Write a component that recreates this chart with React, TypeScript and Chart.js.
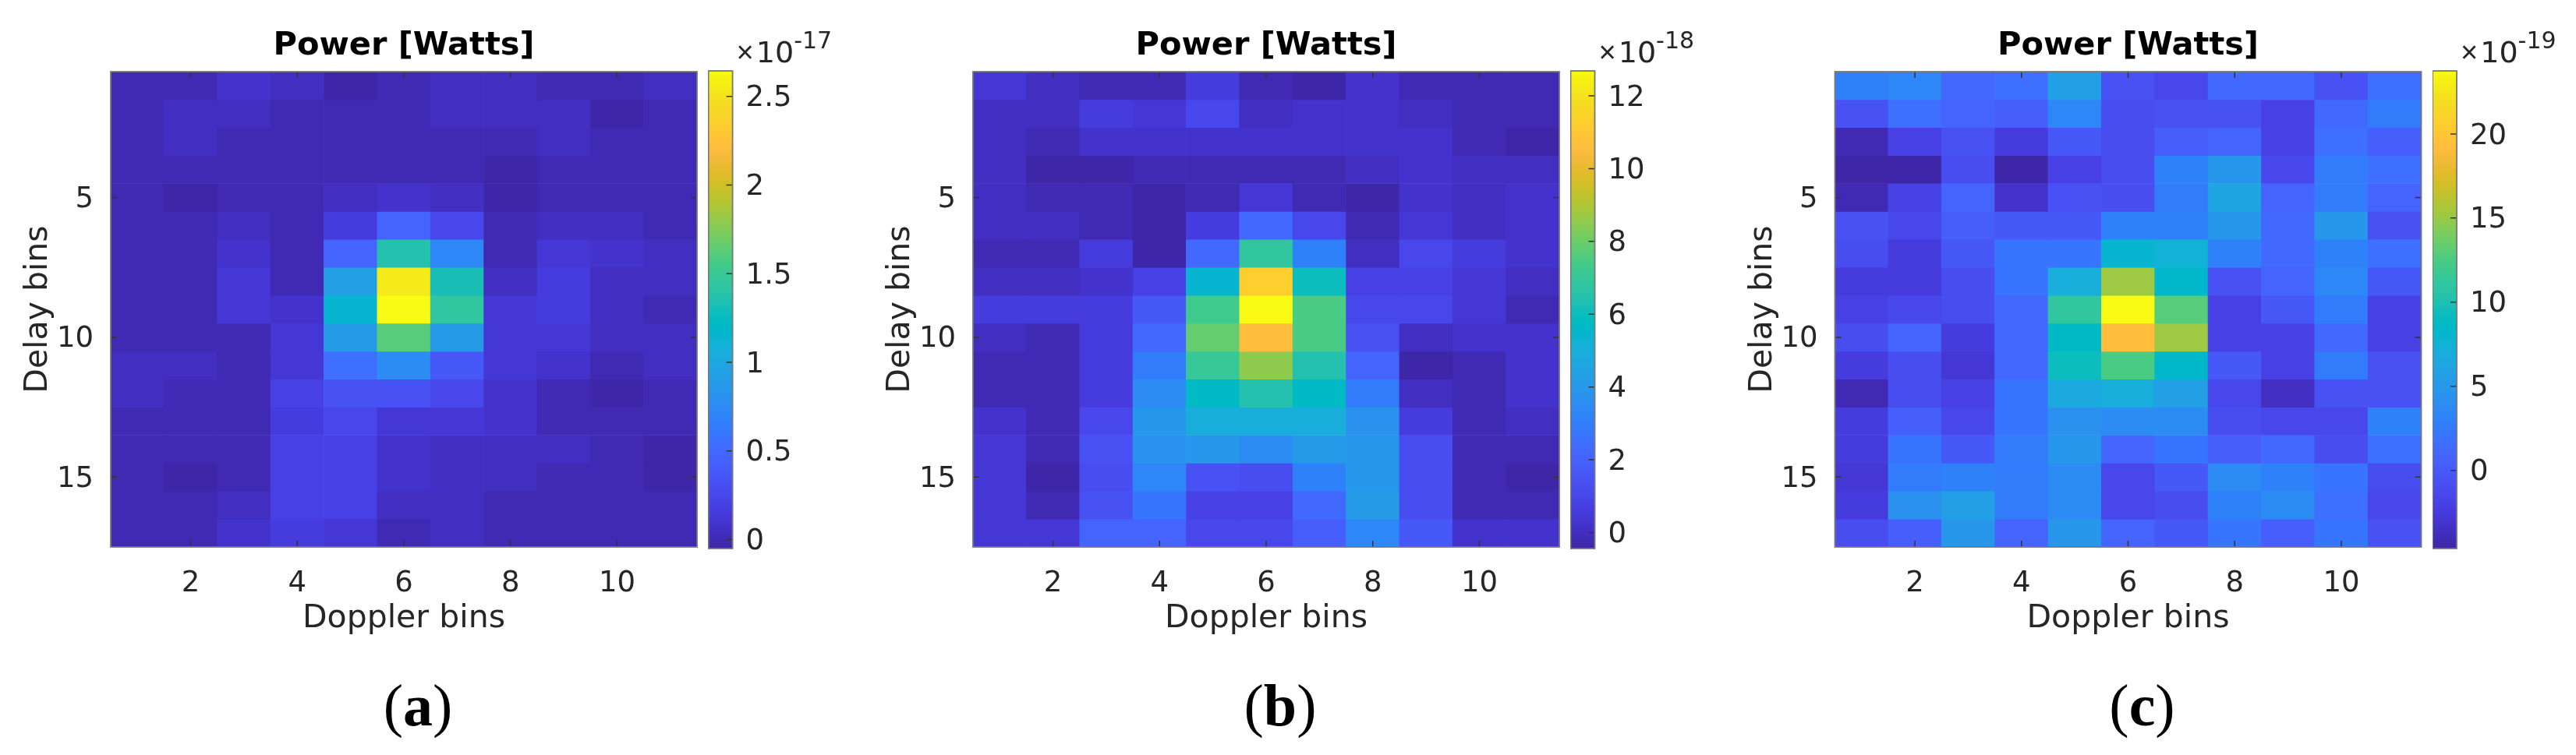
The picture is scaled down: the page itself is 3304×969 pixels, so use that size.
import React, { useEffect, useRef } from "react";
import { Chart, registerables } from "chart.js";
Chart.register(...registerables);

const doppler = [1, 2, 3, 4, 5, 6, 7, 8, 9, 10, 11];
const xTicks = [2, 4, 6, 8, 10];
const yTicks = [5, 10, 15];

// values x 1e-17
const powerA = [
  [.031,.031,.077,.044,-.01,.017,.044,.044,.004,.017,.044],
  [.031,.044,.044,.017,.004,.017,.044,.044,.058,-.01,.031],
  [.031,.044,.031,.031,.031,.004,.004,.031,.058,.004,.017],
  [.031,.031,.031,.017,.031,.031,.017,-.01,.031,.004,.004],
  [.031,-.01,.031,.031,.058,.077,.058,-.01,.031,.031,.004],
  [.031,.031,.058,.004,.166,.489,.273,.004,.044,.044,.031],
  [.031,.031,.112,.031,.462,1.378,.731,.017,.125,.098,.044],
  [.031,.031,.125,.031,.947,2.536,1.324,.044,.166,.058,.044],
  [.031,.031,.125,.098,1.135,2.644,1.459,.125,.192,.044,.031],
  [.031,.031,.031,.139,.893,1.593,.893,.125,.125,.058,.044],
  [.058,.058,.031,.139,.543,.758,.408,.125,.098,.017,.044],
  [.044,.017,.017,.219,.33,.33,.273,.112,.031,-.01,.031],
  [.017,.017,.017,.192,.273,.139,.139,.098,.031,.004,.004],
  [.031,.004,.031,.219,.233,.098,.058,.058,.044,.004,-.01],
  [.031,-.01,.031,.233,.233,.098,.044,.044,.031,.004,-.01],
  [.031,.031,.044,.206,.206,.058,.058,.031,.017,.017,.031],
  [.031,.031,.077,.192,.139,.031,.044,.031,.031,.031,.031],
];
// values x 1e-18
const powerB = [
  [.41,.09,-.05,-.18,.61,-.18,-.28,.18,-.05,-.18,-.11],
  [.09,.09,.74,.41,1.0,.09,.18,.35,.02,-.18,-.05],
  [.09,-.05,.28,.28,.35,.35,.35,.28,.18,-.05,-.24],
  [.02,-.24,-.24,-.18,-.18,-.05,-.18,.02,.35,.02,.09],
  [.09,-.18,-.05,-.28,-.18,.41,-.05,-.24,.28,.02,.35],
  [.09,.02,-.05,-.37,.61,2.32,1.14,-.05,.41,.09,.28],
  [-.05,-.05,.61,-.24,2.25,6.91,3.24,.09,1.0,.68,.35],
  [.02,.02,.28,.87,5.34,11.11,6.12,.81,.94,.41,.02],
  [.61,.61,.74,1.7,7.17,12.685,7.44,1.14,1.0,.41,-.11],
  [.02,-.05,.74,2.32,7.83,10.6,7.44,1.53,.02,.28,.18],
  [-.05,-.11,.61,2.97,7.04,8.49,6.39,2.05,-.37,-.05,.28],
  [-.05,-.11,.61,3.5,5.86,6.52,5.73,2.97,.02,-.05,.35],
  [.35,-.11,1.14,4.02,4.94,4.94,4.94,3.76,.61,-.05,.09],
  [.48,-.05,1.47,3.76,3.89,3.63,4.15,4.02,1.27,-.18,-.05],
  [.41,-.24,1.4,3.37,1.53,1.4,3.24,4.02,1.4,-.18,-.24],
  [.41,-.05,1.53,2.71,.87,.81,2.32,4.15,1.4,-.05,-.18],
  [.41,.48,2.19,2.05,1.0,1.0,1.92,3.37,1.7,.35,.35],
];
// values x 1e-19
const powerC = [
  [3.02,3.59,1.31,1.6,5.57,-.39,-1.53,1.31,1.31,-.39,1.6],
  [-.39,1.6,.75,.46,3.59,-.67,-.39,-.39,-1.81,1.31,2.73],
  [-3.8,-1.81,-.25,-2.38,-.11,-.96,.46,.75,-1.81,1.88,.46],
  [-4.37,-4.37,-.67,-4.37,-1.81,-.96,3.3,4.72,-1.24,2.73,1.88],
  [-4.08,-1.81,1.03,-2.95,-.25,-.67,2.73,6.43,.75,2.73,.75],
  [-.39,-1.24,.46,-.11,.18,3.02,3.02,4.72,1.31,5.0,-.39],
  [-.67,-2.24,-.11,2.17,2.17,8.13,7.56,3.3,1.31,3.3,1.6],
  [-2.09,-2.24,-.96,2.17,6.99,15.23,8.41,-.39,1.03,3.59,.18],
  [-1.81,-1.53,-.96,1.31,11.25,23.75,12.96,-1.81,-.11,2.45,-1.81],
  [-.67,.75,-2.09,1.31,8.98,19.2,15.23,-1.95,-1.95,1.31,-1.81],
  [-2.09,-.67,-2.66,1.31,9.27,12.39,8.41,-.11,-1.81,2.45,-.39],
  [-3.8,-.96,-1.81,2.17,6.71,6.99,5.86,-1.24,-3.51,-.39,-.39],
  [-2.09,.46,-1.24,2.17,4.44,3.87,3.87,-.67,-1.24,-1.24,3.3],
  [-2.09,2.17,.18,2.45,4.72,1.03,2.17,.46,1.31,-.96,1.6],
  [-2.66,2.45,3.02,2.45,4.15,-1.24,-.11,3.87,3.02,2.17,-.96],
  [-2.09,4.44,5.86,2.45,4.15,-1.24,-.96,3.02,3.87,1.6,-1.24],
  [-.96,.46,4.72,1.03,5.0,.75,-.11,2.17,.46,2.17,-.39],
];

const limitsA = [-0.05, 2.644];
const limitsB = [-0.44, 12.685];
const limitsC = [-4.65, 23.75];
const colorTicksA = [0, 0.5, 1, 1.5, 2, 2.5];
const colorTicksB = [0, 2, 4, 6, 8, 10, 12];
const colorTicksC = [0, 5, 10, 15, 20];
const exponents = ["-17", "-18", "-19"];
const captions = ["a", "b", "c"];
const chartTitle = "Power [Watts]";
const xLabel = "Doppler bins";
const yLabel = "Delay bins";

const parula = [
  [.2422,.1504,.6603],[.2504,.1650,.7076],[.2578,.1818,.7511],[.2647,.1978,.7952],
  [.2706,.2147,.8364],[.2751,.2342,.8710],[.2783,.2559,.8991],[.2803,.2782,.9221],
  [.2813,.3006,.9414],[.2810,.3228,.9579],[.2795,.3447,.9717],[.2760,.3667,.9829],
  [.2699,.3892,.9906],[.2602,.4123,.9952],[.2440,.4358,.9988],[.2206,.4603,.9973],
  [.1963,.4847,.9892],[.1834,.5074,.9798],[.1786,.5289,.9682],[.1764,.5499,.9520],
  [.1687,.5703,.9359],[.1540,.5902,.9218],[.1460,.6091,.9079],[.1380,.6276,.8973],
  [.1248,.6459,.8883],[.1113,.6635,.8763],[.0952,.6798,.8598],[.0689,.6948,.8394],
  [.0297,.7082,.8163],[.0036,.7203,.7917],[.0067,.7312,.7660],[.0433,.7411,.7394],
  [.0964,.7500,.7120],[.1408,.7584,.6842],[.1717,.7670,.6554],[.1938,.7758,.6251],
  [.2161,.7843,.5923],[.2470,.7918,.5567],[.2906,.7973,.5188],[.3406,.8008,.4789],
  [.3909,.8029,.4354],[.4456,.8024,.3909],[.5044,.7993,.3480],[.5616,.7942,.3045],
  [.6174,.7876,.2612],[.6720,.7793,.2227],[.7242,.7698,.1910],[.7738,.7598,.1646],
  [.8203,.7498,.1535],[.8634,.7406,.1596],[.9035,.7330,.1774],[.9393,.7288,.2100],
  [.9728,.7298,.2394],[.9956,.7434,.2371],[.9970,.7659,.2199],[.9952,.7861,.1999],
  [.9892,.8066,.1816],[.9786,.8271,.1630],[.9676,.8480,.1470],[.9610,.8700,.1305],
  [.9597,.8942,.1135],[.9626,.9205,.0924],[.9691,.9496,.0591],[.9769,.9839,.0805],
];
const rgb = (c: number[]) => `rgb(${c.map((x) => Math.round(x * 255)).join(",")})`;
const colorFor = (v: number, lim: number[]) => {
  const i = Math.floor(((v - lim[0]) / (lim[1] - lim[0])) * parula.length);
  return rgb(parula[Math.max(0, Math.min(parula.length - 1, i))]);
};

const SANS = "'DejaVu Sans'";
const TEXT = "#262626";
const TICK_SIZE = 37;
const LABEL_SIZE = 41;

const PLOT_W = 752;
const PLOT_TOP = 92;
const PLOT_BOTTOM = 702;
const CB_TOP = 91;
const CB_BOTTOM = 704;
const CB_W = 31;

const frameFor = (sides: string[]) => ({
  id: "matlabFrame",
  afterDatasetsDraw(chart: any) {
    const { ctx, chartArea: a, scales } = chart;
    ctx.save();
    ctx.strokeStyle = "#333";
    ctx.lineWidth = 1.5;
    const len = 8;
    ctx.beginPath();
    if (sides.includes("x")) {
      for (const t of scales.x.ticks) {
        const p = scales.x.getPixelForValue(t.value);
        ctx.moveTo(p, a.top); ctx.lineTo(p, a.top + len);
        ctx.moveTo(p, a.bottom); ctx.lineTo(p, a.bottom - len);
      }
    }
    for (const t of scales.y.ticks) {
      const p = scales.y.getPixelForValue(t.value);
      if (sides.includes("l")) { ctx.moveTo(a.left, p); ctx.lineTo(a.left + len, p); }
      if (sides.includes("r")) { ctx.moveTo(a.right, p); ctx.lineTo(a.right - len, p); }
    }
    ctx.stroke();
    ctx.strokeStyle = "#777";
    ctx.lineWidth = 1.8;
    ctx.strokeRect(a.left, a.top, a.right - a.left, a.bottom - a.top);
    ctx.restore();
  },
});

function Heat({ plotLeft, values, limits }: { plotLeft: number; values: number[][]; limits: number[] }) {
  const ref = useRef<HTMLCanvasElement>(null);
  const canvasLeft = Math.floor(plotLeft - 142);
  const Y_W = 140;
  const CW = 142 + PLOT_W + 30;
  const CH = 832;
  useEffect(() => {
    const padLeft = plotLeft - canvasLeft - Y_W;
    const chart = new Chart(ref.current!, {
      type: "bar",
      data: {
        datasets: values.map((row, r) => ({
          data: row.map((v, c) => ({ x: doppler[c], y: [r + 0.5, r + 1.5], v })),
          backgroundColor: row.map((v) => colorFor(v, limits)),
          borderWidth: 0,
          barPercentage: 1,
          categoryPercentage: 1,
          grouped: false,
        })),
      } as any,
      options: {
        animation: false,
        responsive: false,
        devicePixelRatio: 1,
        layout: { padding: { left: padLeft, right: CW - plotLeft + canvasLeft - PLOT_W, top: 0, bottom: 0 } },
        plugins: {
          legend: { display: false },
          tooltip: { enabled: false },
          title: {
            display: true,
            text: chartTitle,
            fullSize: false,
            color: "#000",
            font: { family: SANS, size: 41.5, weight: "bold" },
            padding: { top: 34, bottom: PLOT_TOP - 34 - 49.8 },
          },
        },
        scales: {
          x: {
            type: "linear",
            offset: false,
            min: 0.5,
            max: 11.5,
            grid: { display: false },
            border: { display: false },
            afterFit: (s: any) => { s.height = CH - PLOT_BOTTOM; },
            afterBuildTicks: (s: any) => { s.ticks = xTicks.map((value) => ({ value })); },
            ticks: {
              color: TEXT, padding: 17, autoSkip: false, maxRotation: 0,
              font: { family: SANS, size: TICK_SIZE },
              callback: (v: any) => String(v),
            },
            title: { display: true, text: xLabel, color: TEXT, font: { family: SANS, size: LABEL_SIZE }, padding: { top: 0, bottom: 13 } },
          },
          y: {
            type: "linear",
            reverse: true,
            min: 0.5,
            max: 17.5,
            grid: { display: false },
            border: { display: false },
            afterFit: (s: any) => { s.width = Y_W; },
            afterBuildTicks: (s: any) => { s.ticks = yTicks.map((value) => ({ value })); },
            ticks: {
              color: TEXT, padding: 14, autoSkip: false, labelOffset: 3,
              font: { family: SANS, size: TICK_SIZE },
              callback: (v: any) => String(v),
            },
            title: { display: true, text: yLabel, color: TEXT, font: { family: SANS, size: LABEL_SIZE }, padding: { top: 23, bottom: 0 } },
          },
        },
      },
      plugins: [frameFor(["x", "l", "r"])],
    } as any);
    return () => chart.destroy();
  }, []);
  return (
    <canvas
      ref={ref}
      width={CW}
      height={CH}
      style={{ position: "absolute", left: canvasLeft, top: 0, width: CW, height: CH }}
    />
  );
}

function ColorBar({ left, limits, ticks, exponent }: { left: number; limits: number[]; ticks: number[]; exponent: string }) {
  const ref = useRef<HTMLCanvasElement>(null);
  const canvasLeft = Math.floor(left);
  const Y_W = 100;
  const CW = 140;
  const CH = 760;
  useEffect(() => {
    const padLeft = left - canvasLeft;
    const chart = new Chart(ref.current!, {
      type: "bar",
      data: {
        labels: ["colorbar"],
        datasets: [{
          data: [limits],
          borderWidth: 0,
          barPercentage: 1,
          categoryPercentage: 1,
          backgroundColor: (c: any) => {
            const a = c.chart.chartArea;
            if (!a) return "#000";
            const g = c.chart.ctx.createLinearGradient(0, a.bottom, 0, a.top);
            parula.forEach((col, i) => {
              g.addColorStop(i / (parula.length - 1), rgb(col));
            });
            return g;
          },
        }],
      } as any,
      options: {
        animation: false,
        responsive: false,
        devicePixelRatio: 1,
        layout: { padding: { left: padLeft, right: CW - padLeft - CB_W - Y_W, top: CB_TOP, bottom: CH - CB_BOTTOM } },
        plugins: { legend: { display: false }, tooltip: { enabled: false } },
        scales: {
          x: { display: false },
          y: {
            type: "linear",
            position: "right",
            min: limits[0],
            max: limits[1],
            grid: { display: false },
            border: { display: false },
            afterFit: (s: any) => { s.width = Y_W; },
            afterBuildTicks: (s: any) => { s.ticks = ticks.map((value) => ({ value })); },
            ticks: {
              color: TEXT, padding: 9, autoSkip: false, labelOffset: 3,
              font: { family: SANS, size: TICK_SIZE },
              callback: (v: any) => String(v),
            },
          },
        },
      },
      plugins: [frameFor(["r"])],
    } as any);
    return () => chart.destroy();
  }, []);
  return (
    <>
      <canvas
        ref={ref}
        width={CW}
        height={CH}
        style={{ position: "absolute", left: canvasLeft, top: 0, width: CW, height: CH }}
      />
      <div style={{ position: "absolute", left: left + 36, top: 42, height: 50, whiteSpace: "nowrap", fontFamily: SANS, color: TEXT, fontSize: 38, lineHeight: "50px" }}>
        <span style={{ fontFamily: "'Liberation Sans'", fontWeight: 300 }}>×</span>
        <span style={{ marginLeft: 3 }}>10</span>
        <span style={{ fontSize: 30, position: "relative", top: -18 }}>{exponent}</span>
      </div>
    </>
  );
}

const panels = [
  { plotLeft: 142, cbLeft: 908.6, values: powerA, limits: limitsA, ticks: colorTicksA },
  { plotLeft: 1248, cbLeft: 2014.5, values: powerB, limits: limitsB, ticks: colorTicksB },
  { plotLeft: 2353.5, cbLeft: 3120, values: powerC, limits: limitsC, ticks: colorTicksC },
];

export default function App() {
  return (
    <div style={{ position: "absolute", left: 0, top: 0, width: 3304, height: 969, background: "#fff", overflow: "hidden" }}>
      {panels.map((p, i) => (
        <React.Fragment key={i}>
          <Heat plotLeft={p.plotLeft} values={p.values} limits={p.limits} />
          <ColorBar left={p.cbLeft} limits={p.limits} ticks={p.ticks} exponent={exponents[i]} />
          <div
            style={{
              position: "absolute",
              left: p.plotLeft + PLOT_W / 2 - 100 + 18,
              width: 200,
              top: 860,
              textAlign: "center",
              fontFamily: "'Liberation Serif'",
              fontSize: 76,
              lineHeight: "90px",
              color: "#000",
            }}
          >
            (<b>{captions[i]}</b>)
          </div>
        </React.Fragment>
      ))}
    </div>
  );
}
